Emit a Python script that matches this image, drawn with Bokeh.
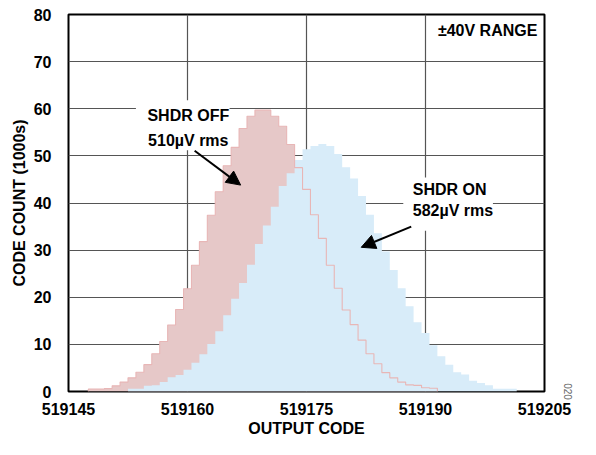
from bokeh.plotting import figure
from bokeh.models import (Range1d, FixedTicker, BasicTickFormatter, Label, Arrow, NormalHead,
                          LinearAxis)
from bokeh.embed import file_html
from bokeh.resources import INLINE

# ---- data (code counts in thousands) ----
codes_off = list(range(519148, 519192))
shdr_off = [0.5, 0.5, 0.6, 1.2, 2.0, 2.9, 4.1, 5.7, 8.0, 10.6, 14.1, 17.4, 21.8, 26.8,
            31.8, 37.4, 42.4, 47.9, 51.8, 55.8, 58.4, 59.7, 59.7, 58.4, 56.3, 52.4,
            47.5, 42.9, 37.5, 32.5, 26.8, 21.9, 17.3, 14.2, 10.9, 8.0, 5.9, 4.0, 2.9,
            2.0, 1.4, 1.3, 0.8, 0.7]
codes_on = list(range(519153, 519202))
shdr_on = [0.6, 0.6, 1.2, 1.3, 2.0, 3.0, 3.5, 4.6, 6.1, 7.9, 10.1, 12.8, 16.2, 19.7,
           23.0, 26.9, 31.3, 35.2, 39.2, 43.6, 46.3, 49.1, 51.4, 52.1, 52.5, 52.1,
           50.4, 47.6, 45.2, 41.5, 37.5, 33.6, 29.7, 25.8, 21.9, 18.1, 14.7, 12.4,
           9.8, 7.5, 5.7, 4.1, 3.6, 2.3, 1.8, 1.3, 0.6, 0.6, 0.6]
x_ticks = [519145, 519160, 519175, 519190, 519205]
y_ticks = [0, 10, 20, 30, 40, 50, 60, 70, 80]

FONT = "Liberation Sans"
FS = "16px"


def step_path(codes, vals):
    xs, ys = [codes[0] - 0.5], [0.0]
    for c, v in zip(codes, vals):
        xs += [c - 0.5, c + 0.5]
        ys += [v, v]
    xs.append(codes[-1] + 0.5)
    ys.append(0.0)
    return xs, ys


p = figure(width=580, height=439, output_backend="svg", toolbar_location=None,
           x_range=Range1d(519145, 519205), y_range=Range1d(0, 80))
p.min_border_left = 68
p.min_border_right = 36
p.min_border_top = 14
p.min_border_bottom = 47
p.background_fill_color = "white"
p.border_fill_color = "white"
p.outline_line_color = "black"
p.outline_line_width = 2

p.xaxis.ticker = FixedTicker(ticks=x_ticks)
p.yaxis.ticker = FixedTicker(ticks=y_ticks)
p.xaxis.formatter = BasicTickFormatter(use_scientific=False)
for ax in (p.xaxis, p.yaxis):
    ax.axis_line_color = None
    ax.major_tick_line_color = None
    ax.minor_tick_line_color = None
    ax.major_label_text_font = FONT
    ax.major_label_text_font_size = FS
    ax.major_label_text_font_style = "bold"
    ax.major_label_text_color = "black"
    ax.axis_label_text_font = FONT
    ax.axis_label_text_font_size = FS
    ax.axis_label_text_font_style = "bold"
    ax.axis_label_text_color = "black"
p.xaxis.axis_label = "OUTPUT CODE"
p.yaxis.axis_label = "CODE COUNT (1000s)"
p.xaxis.major_label_standoff = 5
p.xaxis.axis_label_standoff = 2
p.yaxis.major_label_standoff = 11
p.yaxis.axis_label_standoff = 3

# figure number at the lower right, outside the frame
fig_no = LinearAxis(ticker=FixedTicker(ticks=[]),
                    axis_line_color=None, major_tick_line_color=None,
                    minor_tick_line_color=None, major_label_standoff=0,
                    axis_label="020", axis_label_standoff=19,
                    axis_label_text_font=FONT, axis_label_text_font_size="10px",
                    axis_label_text_font_style="normal", axis_label_text_color="#666666",
                    axis_label_align="start")
p.add_layout(fig_no, "right")

p.xgrid.grid_line_color = "#555555"
p.ygrid.grid_line_color = "#555555"
p.xgrid.grid_line_width = 1.2
p.ygrid.grid_line_width = 1.2

# white boxes behind annotation texts
p.quad(left=[519153.5], right=[519165.3], bottom=[51.2], top=[61.8],
       fill_color="white", line_color=None)
p.quad(left=[519187.2], right=[519198.5], bottom=[34.1], top=[45.4],
       fill_color="white", line_color=None)

ox, oy = step_path(codes_off, shdr_off)
nx, ny = step_path(codes_on, shdr_on)
p.patch(ox, oy, fill_color="#e6c8c8", line_color=None)
p.patch(nx, ny, fill_color="#d8ecf9", line_color=None)
p.line(ox, oy, line_color="#e8b6b6", line_width=1.1)


def lab(x, y, text, align="center"):
    p.add_layout(Label(x=x, y=y, text=text, text_align=align, text_baseline="middle",
                       text_font=FONT, text_font_size=FS, text_font_style="bold",
                       text_color="black"))


lab(519160.1, 58.5, "SHDR OFF")
lab(519160.1, 53.3, "510µV rms")
lab(519188.4, 42.9, "SHDR ON", align="left")
lab(519188.4, 38.4, "582µV rms", align="left")
lab(519204.1, 76.7, "±40V RANGE", align="right")

p.add_layout(Arrow(end=NormalHead(size=14, fill_color="black", line_color="black"),
                   x_start=519160.9, y_start=51.1, x_end=519166.7, y_end=43.8,
                   line_width=2, line_color="black"))
p.add_layout(Arrow(end=NormalHead(size=14, fill_color="black", line_color="black"),
                   x_start=519188.2, y_start=35.0, x_end=519181.9, y_end=30.6,
                   line_width=2, line_color="black"))

open("out.html", "w").write(file_html(p, INLINE))
